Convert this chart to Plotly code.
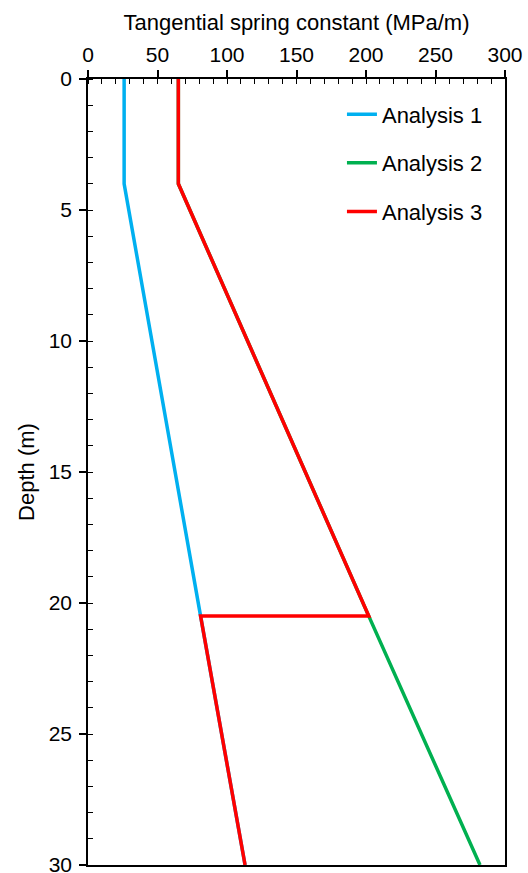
import plotly.graph_objects as go

# Depth profiles (m) and tangential spring constants (MPa/m)
depth_1 = [0, 4, 20.5, 30]
k_1 = [26, 26, 81, 113]

depth_2 = [0, 4, 20.5, 30]
k_2 = [65, 65, 202, 282]

depth_3 = [0, 4, 20.5, 20.5, 30]
k_3 = [65, 65, 202, 81, 113]

series = [
    ("Analysis 1", k_1, depth_1, "#00B0F0"),
    ("Analysis 2", k_2, depth_2, "#00B050"),
    ("Analysis 3", k_3, depth_3, "#FF0000"),
]

FONT = "Liberation Sans, Arial, Helvetica, sans-serif"

fig = go.Figure()
for i, (name, k, d, color) in enumerate(series):
    fig.add_trace(go.Scatter(
        x=k, y=d, mode="lines", name=name,
        line=dict(color=color, width=3.5),
        legendgroup=f"g{i}",
    ))

fig.update_layout(
    width=528, height=873,
    margin=dict(l=88, r=23, t=79, b=8),
    paper_bgcolor="white", plot_bgcolor="white",
    font=dict(family=FONT, size=21, color="black"),
    showlegend=True,
    legend=dict(
        x=0.609, y=0.9816, xanchor="left", yanchor="top",
        bgcolor="rgba(0,0,0,0)", traceorder="grouped",
        tracegroupgap=17, font=dict(size=22),
    ),
    xaxis=dict(
        side="top", range=[0, 300], tickvals=[0, 50, 100, 150, 200, 250, 300],
        showgrid=False, zeroline=False, automargin=False,
        showline=True, linecolor="black", linewidth=1.5, mirror=True,
        ticks="outside", ticklen=7, tickwidth=1.5, tickcolor="black",
        tickfont=dict(size=21), ticklabeloverflow="allow",
        minor=dict(dtick=10, ticks="inside", ticklen=5, tickwidth=1.2, tickcolor="black"),
        title=dict(text="Tangential spring constant (MPa/m)", font=dict(size=22), standoff=6),
    ),
    yaxis=dict(
        range=[30, 0], tickvals=[0, 5, 10, 15, 20, 25, 30],
        showgrid=False, zeroline=False, automargin=False,
        showline=True, linecolor="black", linewidth=1.5, mirror=True,
        ticks="outside", ticklen=7, tickwidth=1.5, tickcolor="black",
        tickfont=dict(size=21), ticklabeloverflow="allow", ticklabelstandoff=3,
        minor=dict(dtick=1, ticks="inside", ticklen=5, tickwidth=1.2, tickcolor="black"),
        title=dict(text="Depth (m)", font=dict(size=22), standoff=8),
    ),
)

fig.write_html("out.html")
